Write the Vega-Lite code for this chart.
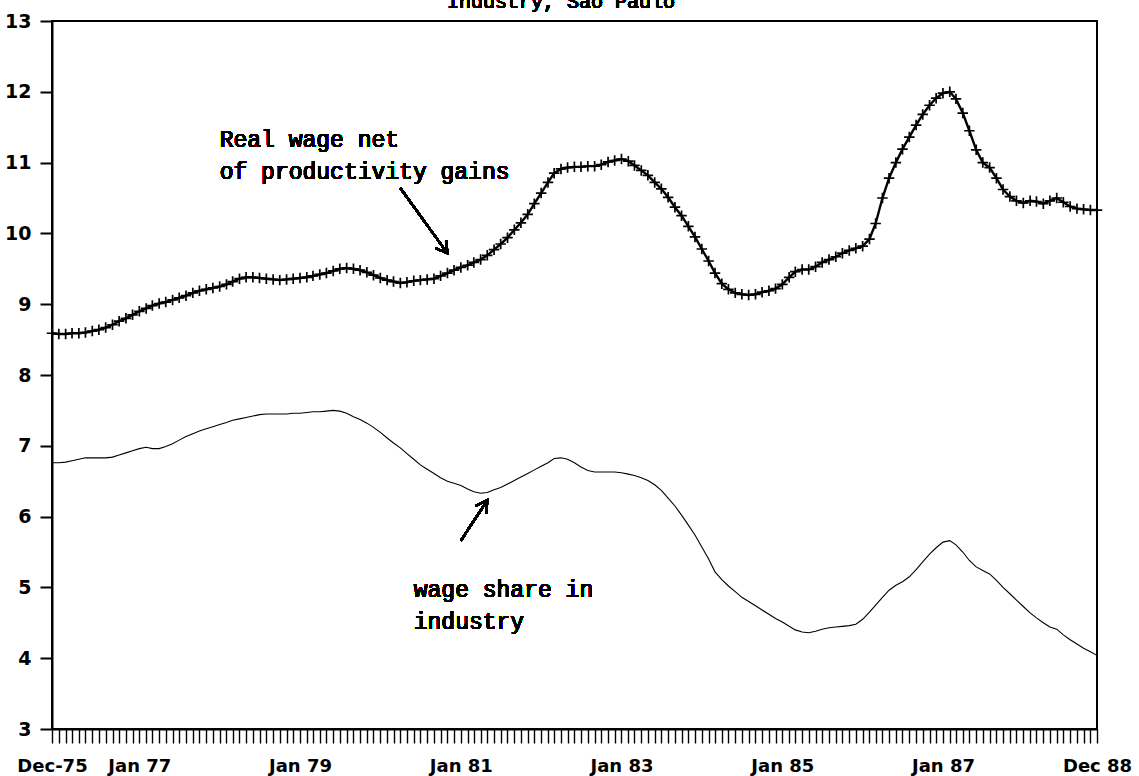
{
  "$schema": "https://vega.github.io/schema/vega-lite/v6.json",
  "width": 1045,
  "height": 708,
  "autosize": {"type": "none"},
  "padding": {"left": 52, "top": 21, "right": 42, "bottom": 47},
  "background": "white",
  "config": {
    "view": {"stroke": "black", "strokeWidth": 2},
    "axis": {"domainColor": "black", "tickColor": "black", "labelColor": "black", "grid": false}
  },
  "data": {
    "format": {"parse": {"date": "date:'%Y-%m'"}},
    "values": [
      {"date":"1975-12","real_wage":8.59,"wage_share":6.76},
      {"date":"1976-01","real_wage":8.58,"wage_share":6.76},
      {"date":"1976-02","real_wage":8.58,"wage_share":6.77},
      {"date":"1976-03","real_wage":8.59,"wage_share":6.79},
      {"date":"1976-04","real_wage":8.59,"wage_share":6.81},
      {"date":"1976-05","real_wage":8.60,"wage_share":6.83},
      {"date":"1976-06","real_wage":8.62,"wage_share":6.83},
      {"date":"1976-07","real_wage":8.64,"wage_share":6.83},
      {"date":"1976-08","real_wage":8.67,"wage_share":6.83},
      {"date":"1976-09","real_wage":8.71,"wage_share":6.84},
      {"date":"1976-10","real_wage":8.76,"wage_share":6.87},
      {"date":"1976-11","real_wage":8.80,"wage_share":6.90},
      {"date":"1976-12","real_wage":8.85,"wage_share":6.93},
      {"date":"1977-01","real_wage":8.90,"wage_share":6.96},
      {"date":"1977-02","real_wage":8.94,"wage_share":6.98},
      {"date":"1977-03","real_wage":8.98,"wage_share":6.96},
      {"date":"1977-04","real_wage":9.01,"wage_share":6.96},
      {"date":"1977-05","real_wage":9.03,"wage_share":6.99},
      {"date":"1977-06","real_wage":9.06,"wage_share":7.03},
      {"date":"1977-07","real_wage":9.09,"wage_share":7.08},
      {"date":"1977-08","real_wage":9.12,"wage_share":7.13},
      {"date":"1977-09","real_wage":9.16,"wage_share":7.17},
      {"date":"1977-10","real_wage":9.19,"wage_share":7.21},
      {"date":"1977-11","real_wage":9.21,"wage_share":7.24},
      {"date":"1977-12","real_wage":9.23,"wage_share":7.27},
      {"date":"1978-01","real_wage":9.25,"wage_share":7.30},
      {"date":"1978-02","real_wage":9.28,"wage_share":7.33},
      {"date":"1978-03","real_wage":9.32,"wage_share":7.36},
      {"date":"1978-04","real_wage":9.36,"wage_share":7.38},
      {"date":"1978-05","real_wage":9.38,"wage_share":7.40},
      {"date":"1978-06","real_wage":9.38,"wage_share":7.42},
      {"date":"1978-07","real_wage":9.37,"wage_share":7.44},
      {"date":"1978-08","real_wage":9.36,"wage_share":7.45},
      {"date":"1978-09","real_wage":9.35,"wage_share":7.45},
      {"date":"1978-10","real_wage":9.34,"wage_share":7.45},
      {"date":"1978-11","real_wage":9.35,"wage_share":7.45},
      {"date":"1978-12","real_wage":9.36,"wage_share":7.46},
      {"date":"1979-01","real_wage":9.37,"wage_share":7.46},
      {"date":"1979-02","real_wage":9.38,"wage_share":7.47},
      {"date":"1979-03","real_wage":9.40,"wage_share":7.48},
      {"date":"1979-04","real_wage":9.42,"wage_share":7.48},
      {"date":"1979-05","real_wage":9.44,"wage_share":7.49},
      {"date":"1979-06","real_wage":9.47,"wage_share":7.50},
      {"date":"1979-07","real_wage":9.50,"wage_share":7.49},
      {"date":"1979-08","real_wage":9.51,"wage_share":7.46},
      {"date":"1979-09","real_wage":9.50,"wage_share":7.41},
      {"date":"1979-10","real_wage":9.48,"wage_share":7.37},
      {"date":"1979-11","real_wage":9.45,"wage_share":7.32},
      {"date":"1979-12","real_wage":9.41,"wage_share":7.26},
      {"date":"1980-01","real_wage":9.37,"wage_share":7.19},
      {"date":"1980-02","real_wage":9.34,"wage_share":7.11},
      {"date":"1980-03","real_wage":9.32,"wage_share":7.04},
      {"date":"1980-04","real_wage":9.30,"wage_share":6.97},
      {"date":"1980-05","real_wage":9.31,"wage_share":6.89},
      {"date":"1980-06","real_wage":9.33,"wage_share":6.81},
      {"date":"1980-07","real_wage":9.34,"wage_share":6.73},
      {"date":"1980-08","real_wage":9.35,"wage_share":6.67},
      {"date":"1980-09","real_wage":9.36,"wage_share":6.61},
      {"date":"1980-10","real_wage":9.40,"wage_share":6.55},
      {"date":"1980-11","real_wage":9.44,"wage_share":6.50},
      {"date":"1980-12","real_wage":9.48,"wage_share":6.47},
      {"date":"1981-01","real_wage":9.52,"wage_share":6.44},
      {"date":"1981-02","real_wage":9.55,"wage_share":6.39},
      {"date":"1981-03","real_wage":9.59,"wage_share":6.35},
      {"date":"1981-04","real_wage":9.63,"wage_share":6.33},
      {"date":"1981-05","real_wage":9.69,"wage_share":6.34},
      {"date":"1981-06","real_wage":9.77,"wage_share":6.38},
      {"date":"1981-07","real_wage":9.85,"wage_share":6.41},
      {"date":"1981-08","real_wage":9.94,"wage_share":6.46},
      {"date":"1981-09","real_wage":10.05,"wage_share":6.51},
      {"date":"1981-10","real_wage":10.15,"wage_share":6.56},
      {"date":"1981-11","real_wage":10.27,"wage_share":6.61},
      {"date":"1981-12","real_wage":10.42,"wage_share":6.66},
      {"date":"1982-01","real_wage":10.57,"wage_share":6.71},
      {"date":"1982-02","real_wage":10.72,"wage_share":6.76},
      {"date":"1982-03","real_wage":10.85,"wage_share":6.82},
      {"date":"1982-04","real_wage":10.91,"wage_share":6.83},
      {"date":"1982-05","real_wage":10.93,"wage_share":6.81},
      {"date":"1982-06","real_wage":10.94,"wage_share":6.76},
      {"date":"1982-07","real_wage":10.94,"wage_share":6.70},
      {"date":"1982-08","real_wage":10.95,"wage_share":6.65},
      {"date":"1982-09","real_wage":10.95,"wage_share":6.63},
      {"date":"1982-10","real_wage":10.97,"wage_share":6.63},
      {"date":"1982-11","real_wage":11.01,"wage_share":6.63},
      {"date":"1982-12","real_wage":11.03,"wage_share":6.63},
      {"date":"1983-01","real_wage":11.05,"wage_share":6.62},
      {"date":"1983-02","real_wage":11.02,"wage_share":6.60},
      {"date":"1983-03","real_wage":10.96,"wage_share":6.58},
      {"date":"1983-04","real_wage":10.89,"wage_share":6.55},
      {"date":"1983-05","real_wage":10.82,"wage_share":6.51},
      {"date":"1983-06","real_wage":10.72,"wage_share":6.45},
      {"date":"1983-07","real_wage":10.63,"wage_share":6.37},
      {"date":"1983-08","real_wage":10.51,"wage_share":6.26},
      {"date":"1983-09","real_wage":10.37,"wage_share":6.15},
      {"date":"1983-10","real_wage":10.25,"wage_share":6.02},
      {"date":"1983-11","real_wage":10.10,"wage_share":5.88},
      {"date":"1983-12","real_wage":9.95,"wage_share":5.74},
      {"date":"1984-01","real_wage":9.78,"wage_share":5.57},
      {"date":"1984-02","real_wage":9.61,"wage_share":5.40},
      {"date":"1984-03","real_wage":9.44,"wage_share":5.22},
      {"date":"1984-04","real_wage":9.29,"wage_share":5.11},
      {"date":"1984-05","real_wage":9.21,"wage_share":5.02},
      {"date":"1984-06","real_wage":9.16,"wage_share":4.94},
      {"date":"1984-07","real_wage":9.14,"wage_share":4.86},
      {"date":"1984-08","real_wage":9.13,"wage_share":4.80},
      {"date":"1984-09","real_wage":9.14,"wage_share":4.74},
      {"date":"1984-10","real_wage":9.17,"wage_share":4.68},
      {"date":"1984-11","real_wage":9.19,"wage_share":4.62},
      {"date":"1984-12","real_wage":9.22,"wage_share":4.56},
      {"date":"1985-01","real_wage":9.28,"wage_share":4.51},
      {"date":"1985-02","real_wage":9.38,"wage_share":4.45},
      {"date":"1985-03","real_wage":9.46,"wage_share":4.40},
      {"date":"1985-04","real_wage":9.49,"wage_share":4.37},
      {"date":"1985-05","real_wage":9.49,"wage_share":4.36},
      {"date":"1985-06","real_wage":9.53,"wage_share":4.38},
      {"date":"1985-07","real_wage":9.59,"wage_share":4.41},
      {"date":"1985-08","real_wage":9.63,"wage_share":4.43},
      {"date":"1985-09","real_wage":9.67,"wage_share":4.44},
      {"date":"1985-10","real_wage":9.72,"wage_share":4.45},
      {"date":"1985-11","real_wage":9.76,"wage_share":4.46},
      {"date":"1985-12","real_wage":9.79,"wage_share":4.48},
      {"date":"1986-01","real_wage":9.82,"wage_share":4.55},
      {"date":"1986-02","real_wage":9.92,"wage_share":4.65},
      {"date":"1986-03","real_wage":10.14,"wage_share":4.75},
      {"date":"1986-04","real_wage":10.50,"wage_share":4.86},
      {"date":"1986-05","real_wage":10.78,"wage_share":4.96},
      {"date":"1986-06","real_wage":11.00,"wage_share":5.03},
      {"date":"1986-07","real_wage":11.19,"wage_share":5.08},
      {"date":"1986-08","real_wage":11.36,"wage_share":5.15},
      {"date":"1986-09","real_wage":11.53,"wage_share":5.25},
      {"date":"1986-10","real_wage":11.68,"wage_share":5.36},
      {"date":"1986-11","real_wage":11.81,"wage_share":5.47},
      {"date":"1986-12","real_wage":11.91,"wage_share":5.56},
      {"date":"1987-01","real_wage":11.98,"wage_share":5.64},
      {"date":"1987-02","real_wage":12.00,"wage_share":5.66},
      {"date":"1987-03","real_wage":11.90,"wage_share":5.60},
      {"date":"1987-04","real_wage":11.70,"wage_share":5.50},
      {"date":"1987-05","real_wage":11.45,"wage_share":5.38},
      {"date":"1987-06","real_wage":11.18,"wage_share":5.29},
      {"date":"1987-07","real_wage":11.00,"wage_share":5.24},
      {"date":"1987-08","real_wage":10.93,"wage_share":5.19},
      {"date":"1987-09","real_wage":10.78,"wage_share":5.10},
      {"date":"1987-10","real_wage":10.62,"wage_share":5.00},
      {"date":"1987-11","real_wage":10.52,"wage_share":4.91},
      {"date":"1987-12","real_wage":10.46,"wage_share":4.82},
      {"date":"1988-01","real_wage":10.43,"wage_share":4.73},
      {"date":"1988-02","real_wage":10.46,"wage_share":4.64},
      {"date":"1988-03","real_wage":10.45,"wage_share":4.57},
      {"date":"1988-04","real_wage":10.42,"wage_share":4.50},
      {"date":"1988-05","real_wage":10.46,"wage_share":4.44},
      {"date":"1988-06","real_wage":10.50,"wage_share":4.41},
      {"date":"1988-07","real_wage":10.44,"wage_share":4.33},
      {"date":"1988-08","real_wage":10.38,"wage_share":4.26},
      {"date":"1988-09","real_wage":10.35,"wage_share":4.20},
      {"date":"1988-10","real_wage":10.34,"wage_share":4.14},
      {"date":"1988-11","real_wage":10.33,"wage_share":4.09},
      {"date":"1988-12","real_wage":10.33,"wage_share":4.04}
    ]
  },
  "layer": [
    {
      "mark": {"type": "line", "color": "black", "strokeWidth": 1.1},
      "encoding": {
        "x": {
          "field": "date", "type": "temporal", "title": null,
          "scale": {"domain": [{"year": 1975, "month": 12, "date": 1}, {"year": 1988, "month": 12, "date": 1}], "nice": false},
          "axis": {
            "tickCount": {"interval": "month", "step": 1},
            "tickSize": 14, "tickWidth": 1.4, "domainWidth": 2,
            "labelExpr": "month(datum.value)==0 && year(datum.value)%2==1 ? 'Jan ' + timeFormat(datum.value,'%y') : (month(datum.value)==11 && year(datum.value)==1975 ? 'Dec-75' : (month(datum.value)==11 && year(datum.value)==1988 ? 'Dec 88' : ''))",
            "labelOverlap": false, "labelFlush": false, "labelBound": false,
            "labelPadding": 14, "labelFont": "DejaVu Sans", "labelFontSize": 18, "labelFontWeight": "bold"
          }
        },
        "y": {
          "field": "wage_share", "type": "quantitative", "title": null,
          "scale": {"domain": [3, 13], "nice": false, "zero": false},
          "axis": {
            "values": [3, 4, 5, 6, 7, 8, 9, 10, 11, 12, 13], "format": "d",
            "tickSize": 12, "tickWidth": 2, "domainWidth": 2,
            "labelPadding": 9, "labelFont": "DejaVu Sans", "labelFontSize": 19, "labelFontWeight": "bold"
          }
        }
      }
    },
    {
      "mark": {"type": "line", "color": "black", "strokeWidth": 2.4},
      "encoding": {
        "x": {"field": "date", "type": "temporal"},
        "y": {"field": "real_wage", "type": "quantitative"}
      }
    },
    {
      "mark": {"type": "point", "shape": "M-1,0L1,0M0,-1L0,1", "size": 110, "filled": false, "stroke": "black", "strokeWidth": 1.7, "opacity": 1},
      "encoding": {
        "x": {"field": "date", "type": "temporal"},
        "y": {"field": "real_wage", "type": "quantitative"}
      }
    },
    {
      "mark": {"type": "text", "font": "Liberation Mono", "fontSize": 23, "align": "left", "baseline": "alphabetic", "lineHeight": 32, "color": "black"},
      "encoding": {
        "x": {"datum": {"year": 1978, "month": 1, "date": 1}},
        "y": {"datum": 11.22},
        "text": {"value": ["Real wage net", "of productivity gains"]}
      }
    },
    {
      "mark": {"type": "text", "font": "Liberation Mono", "fontSize": 23, "align": "left", "baseline": "alphabetic", "lineHeight": 32, "color": "black"},
      "encoding": {
        "x": {"datum": {"year": 1980, "month": 6, "date": 1}},
        "y": {"datum": 4.86},
        "text": {"value": ["wage share in", "industry"]}
      }
    },
    {
      "mark": {"type": "text", "font": "Liberation Mono", "fontSize": 20, "align": "center", "baseline": "alphabetic", "color": "black"},
      "encoding": {
        "x": {"datum": {"year": 1982, "month": 4, "date": 1}},
        "y": {"datum": 13.18},
        "text": {"value": "Industry, Sao Paulo"}
      }
    },
    {
      "mark": {"type": "rule", "color": "black", "strokeWidth": 2},
      "encoding": {
        "x": {"datum": {"year": 1980, "month": 4, "date": 1}},
        "y": {"datum": 10.64},
        "x2": {"datum": {"year": 1980, "month": 11, "date": 1}},
        "y2": {"datum": 9.72}
      }
    },
    {
      "mark": {"type": "point", "shape": "M-0.6,1L0,0L0.6,1", "size": 500, "filled": false, "stroke": "black", "strokeWidth": 2, "opacity": 1, "angle": 144},
      "encoding": {
        "x": {"datum": {"year": 1980, "month": 11, "date": 1}},
        "y": {"datum": 9.72}
      }
    },
    {
      "mark": {"type": "rule", "color": "black", "strokeWidth": 2},
      "encoding": {
        "x": {"datum": {"year": 1981, "month": 1, "date": 1}},
        "y": {"datum": 5.66},
        "x2": {"datum": {"year": 1981, "month": 5, "date": 1}},
        "y2": {"datum": 6.23}
      }
    },
    {
      "mark": {"type": "point", "shape": "M-0.6,1L0,0L0.6,1", "size": 500, "filled": false, "stroke": "black", "strokeWidth": 2, "opacity": 1, "angle": 34},
      "encoding": {
        "x": {"datum": {"year": 1981, "month": 5, "date": 1}},
        "y": {"datum": 6.23}
      }
    }
  ]
}
